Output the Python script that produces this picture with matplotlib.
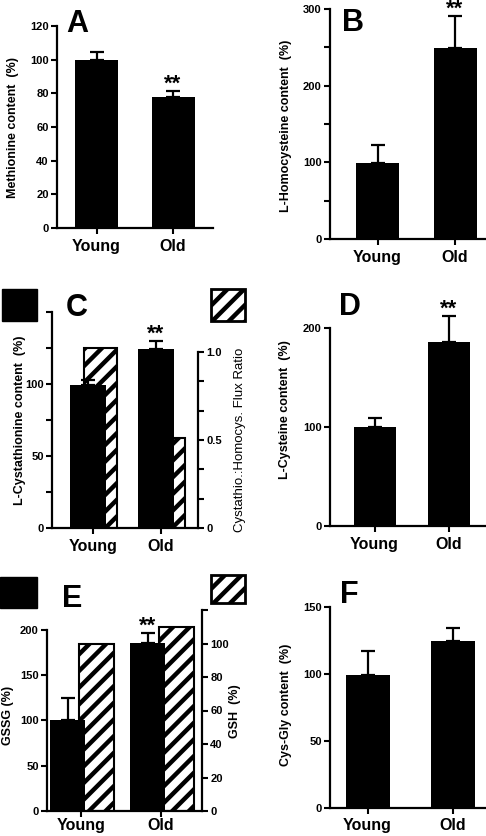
import numpy as np
import matplotlib
matplotlib.use("Agg")
import matplotlib.pyplot as plt
from matplotlib.patches import Rectangle
from matplotlib.ticker import FixedLocator

plt.rcParams["font.family"] = ["Liberation Sans", "DejaVu Sans"]
plt.rcParams["font.weight"] = "bold"
plt.rcParams["hatch.linewidth"] = 3.2

categories = ["Young", "Old"]

methionine = [100, 78]
methionine_err = [4.6, 3.5]
homocysteine = [99, 249]
homocysteine_err = [23, 42]
cystathionine = [99, 124]
cystathionine_err = [4, 6]
flux_ratio = [1.02, 0.51]
cysteine = [100, 186]
cysteine_err = [9, 26]
gssg = [100, 186]
gssg_err = [25, 11]
gsh = [100, 110]
cysgly = [99, 125]
cysgly_err = [18, 9]

W, H = 486, 836
fig = plt.figure(figsize=(W / 100, H / 100), dpi=100)

TICK_FS = 8
CAT_FS = 11.5
LAB_FS = 9
LETTER_FS = 22


def axes_px(left, right, top, bottom):
    return fig.add_axes([left / W, 1 - bottom / H, (right - left) / W, (bottom - top) / H])


def style(ax, left, right, c0, c1, xpad=4):
    # map category index 0/1 onto pixel centres c0/c1
    unit = c1 - c0
    ax.set_xlim((left - c0) / unit, (right - c0) / unit)
    for s in ["top", "right"]:
        ax.spines[s].set_visible(False)
    for s in ["left", "bottom"]:
        ax.spines[s].set_linewidth(1.6)
    ax.tick_params(axis="y", which="both", length=4, width=1.5, labelsize=TICK_FS, pad=2)
    ax.tick_params(axis="x", length=4, width=1.5, labelsize=CAT_FS, pad=xpad)
    ax.set_xticks([0, 1], labels=categories, fontweight="bold")
    for t in ax.get_yticklabels():
        t.set_fontweight("bold")
    return unit


def errbars(ax, x, vals, errs):
    eb = ax.errorbar(x, vals, yerr=[np.zeros(len(vals)), errs], fmt="none", ecolor="black",
                     elinewidth=1.6, capsize=5, capthick=1.6, zorder=1)
    for art in eb.lines[1] + eb.lines[2]:
        art.set_clip_on(False)


def stars(ax, x, y):
    ax.annotate("**", (x, y), xytext=(0, 1), textcoords="offset points",
                ha="center", va="baseline", fontsize=16, fontweight="bold",
                annotation_clip=False)


def letter(x, y, s):
    fig.text(x / W, 1 - y / H, s, fontsize=LETTER_FS, fontweight="bold",
             ha="left", va="baseline")


def ylab(ax, text, x_px, y_px, size=LAB_FS, weight="bold"):
    ax.set_ylabel(text, fontsize=size, fontweight=weight, va="center")
    ax.yaxis.set_label_coords(x_px / W, 1 - y_px / H, transform=fig.transFigure)


x = np.arange(len(categories))

# ---------- A ----------
ax = axes_px(57, 213, 26, 228)
u = style(ax, 57, 213, 96.5, 173)
ax.bar(x, methionine, width=43 / u, color="black", zorder=2)
errbars(ax, x, methionine, methionine_err)
ax.set_ylim(0, 120)
ax.set_yticks(np.arange(0, 121, 20))
stars(ax, 1, methionine[1] + methionine_err[1])
ylab(ax, "Methionine content  (%)", 13, 127)
letter(66, 32, "A")

# ---------- B ----------
ax = axes_px(330, 486, 9, 239)
u = style(ax, 330, 486, 377.5, 455)
ax.bar(x, homocysteine, width=43 / u, color="black", zorder=2)
errbars(ax, x, homocysteine, homocysteine_err)
ax.set_ylim(0, 300)
ax.yaxis.set_major_locator(FixedLocator([0, 100, 200, 300]))
ax.yaxis.set_minor_locator(FixedLocator([50, 150, 250]))
stars(ax, 1, homocysteine[1] + homocysteine_err[1])
ylab(ax, "L-Homocysteine content  (%)", 286, 126)
letter(342, 31, "B")

# ---------- C ----------
ax = axes_px(52, 198, 312, 528)
u = style(ax, 52, 198, 93, 161)
ax2 = ax.twinx()
ax.set_zorder(ax2.get_zorder() + 1)
ax.patch.set_visible(False)
ax.bar(x + (88 - 93) / u, cystathionine, width=36 / u, color="black", zorder=2)
errbars(ax, x + (88 - 93) / u, cystathionine, cystathionine_err)
ax2.bar(x + (100 - 93) / u, flux_ratio, width=33 / u, facecolor="white",
        edgecolor="black", hatch="//", linewidth=1.5)
ax.set_ylim(0, 150)
ax.yaxis.set_major_locator(FixedLocator([0, 50, 100]))
ax.yaxis.set_minor_locator(FixedLocator([25, 75, 125, 150]))
ax2.set_ylim(0, 216 / 176)
ax2.spines["right"].set_bounds(0, 1.0)
ax2.spines["right"].set_linewidth(1.6)
for s in ["left", "top", "bottom"]:
    ax2.spines[s].set_visible(False)
ax2.yaxis.set_major_locator(FixedLocator([0, 0.5, 1.0]))
ax2.yaxis.set_minor_locator(FixedLocator([1 / 6, 2 / 6, 4 / 6, 5 / 6]))
ax2.set_yticklabels(["0", "0.5", "1.0"], fontweight="bold")
ax2.tick_params(axis="y", which="both", length=4, width=1.5, labelsize=TICK_FS, pad=2)
stars(ax, 1 + (88 - 93) / u, cystathionine[1] + cystathionine_err[1])
ylab(ax, "L-Cystathionine content  (%)", 20, 420)
ylab(ax2, "Cystathio.:Homocys. Flux Ratio", 240, 440, size=9.5, weight="normal")
letter(66, 316, "C")
fig.add_artist(Rectangle((2 / W, 1 - 321 / H), 35 / W, 32 / H, transform=fig.transFigure,
                         facecolor="black", edgecolor="black"))
fig.add_artist(Rectangle((211 / W, 1 - 321 / H), 34 / W, 32 / H, transform=fig.transFigure,
                         facecolor="white", edgecolor="black", hatch="//", linewidth=2))

# ---------- D ----------
ax = axes_px(330, 486, 328, 526)
u = style(ax, 330, 486, 374.5, 449)
ax.bar(x, cysteine, width=42 / u, color="black", zorder=2)
errbars(ax, x, cysteine, cysteine_err)
ax.set_ylim(0, 200)
ax.set_yticks([0, 100, 200])
stars(ax, 1, cysteine[1] + cysteine_err[1])
ylab(ax, "L-Cysteine content  (%)", 285, 410)
letter(339, 315, "D")

# ---------- E ----------
ax = axes_px(47, 202, 610, 811)
u = style(ax, 47, 202, 81, 161, xpad=1)
ax2 = ax.twinx()
ax.set_zorder(ax2.get_zorder() + 1)
ax.patch.set_visible(False)
ax.bar(x + (67.5 - 81) / u, gssg, width=35 / u, color="black", zorder=2)
errbars(ax, x + (67.5 - 81) / u, gssg, gssg_err)
ax2.bar(x + (96 - 81) / u, gsh, width=35 / u, facecolor="white",
        edgecolor="black", hatch="//", linewidth=1.5)
ax.set_ylim(0, 222)
ax.spines["left"].set_bounds(0, 200)
ax.set_yticks([0, 50, 100, 150, 200])
ax2.set_ylim(0, 120)
ax2.spines["right"].set_linewidth(1.6)
for s in ["left", "top", "bottom"]:
    ax2.spines[s].set_visible(False)
ax2.yaxis.set_major_locator(FixedLocator([0, 20, 40, 60, 80, 100]))
ax2.yaxis.set_minor_locator(FixedLocator([120]))
ax2.set_yticklabels(["0", "20", "40", "60", "80", "100"], fontweight="bold")
ax2.tick_params(axis="y", which="both", length=4, width=1.5, labelsize=TICK_FS, pad=2)
stars(ax, 1 + (67.5 - 81) / u, gssg[1] + gssg_err[1])
ylab(ax, "GSSG (%)", 8, 715)
ylab(ax2, "GSH  (%)", 235, 711)
letter(62, 607, "E")
fig.add_artist(Rectangle((0 / W, 1 - 608 / H), 37 / W, 31 / H, transform=fig.transFigure,
                         facecolor="black", edgecolor="black"))
fig.add_artist(Rectangle((211 / W, 1 - 603 / H), 34 / W, 28 / H, transform=fig.transFigure,
                         facecolor="white", edgecolor="black", hatch="//", linewidth=2))

# ---------- F ----------
ax = axes_px(330, 486, 607, 808)
u = style(ax, 330, 486, 367.5, 453, xpad=3)
ax.bar(x, cysgly, width=44 / u, color="black", zorder=2)
errbars(ax, x, cysgly, cysgly_err)
ax.set_ylim(0, 150)
ax.set_yticks([0, 50, 100, 150])
ylab(ax, "Cys-Gly content  (%)", 286, 705)
letter(340, 603, "F")

fig.savefig("out.png", dpi=100)
